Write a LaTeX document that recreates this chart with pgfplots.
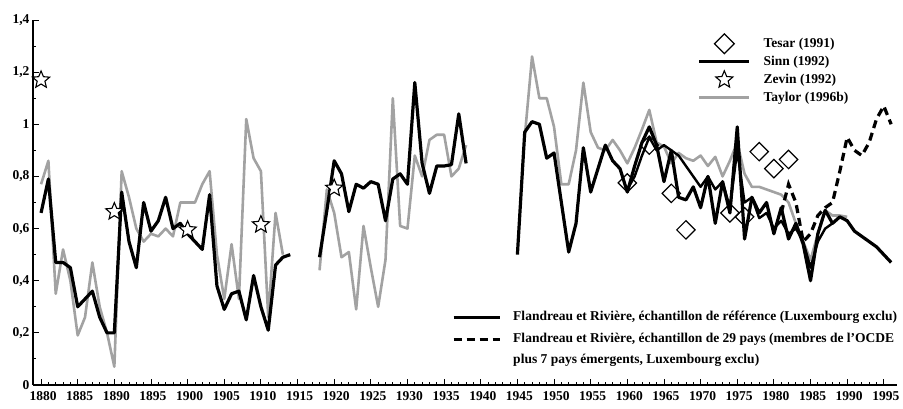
\documentclass[border=0pt]{standalone}
\usepackage{fontspec}
\setmainfont{Liberation Serif}
\usepackage{pgfplots}
\usepackage{pgfplotstable}
\pgfplotsset{compat=1.18}

\definecolor{taylorgray}{RGB}{162,162,162}

% outlined five-pointed star
\pgfdeclareplotmark{ostar}{%
  \pgfpathmoveto{\pgfpointpolar{90}{\pgfplotmarksize}}%
  \pgfpathlineto{\pgfpointpolar{126}{0.45\pgfplotmarksize}}%
  \pgfpathlineto{\pgfpointpolar{162}{\pgfplotmarksize}}%
  \pgfpathlineto{\pgfpointpolar{198}{0.45\pgfplotmarksize}}%
  \pgfpathlineto{\pgfpointpolar{234}{\pgfplotmarksize}}%
  \pgfpathlineto{\pgfpointpolar{270}{0.45\pgfplotmarksize}}%
  \pgfpathlineto{\pgfpointpolar{306}{\pgfplotmarksize}}%
  \pgfpathlineto{\pgfpointpolar{342}{0.45\pgfplotmarksize}}%
  \pgfpathlineto{\pgfpointpolar{18}{\pgfplotmarksize}}%
  \pgfpathlineto{\pgfpointpolar{54}{0.45\pgfplotmarksize}}%
  \pgfpathclose
  \pgfusepathqfillstroke}

% Flandreau et Riviere, reference sample
\pgfplotstableread{
year val
1880 0.66
1881 0.79
1882 0.47
1883 0.47
1884 0.45
1885 0.30
1886 0.33
1887 0.36
1888 0.26
1889 0.20
1890 0.20
1891 0.74
1892 0.55
1893 0.45
1894 0.70
1895 0.59
1896 0.63
1897 0.72
1898 0.60
1899 0.62
1900 0.58
1901 0.55
1902 0.52
1903 0.73
1904 0.38
1905 0.29
1906 0.35
1907 0.36
1908 0.25
1909 0.42
1910 0.30
1911 0.21
1912 0.46
1913 0.49
1914 0.50
1916 nan
1918 0.49
1919 0.67
1920 0.86
1921 0.81
1922 0.665
1923 0.77
1924 0.755
1925 0.78
1926 0.77
1927 0.63
1928 0.79
1929 0.81
1930 0.77
1931 1.16
1932 0.85
1933 0.735
1934 0.84
1935 0.84
1936 0.845
1937 1.04
1938 0.85
1941 nan
1945 0.50
1946 0.97
1947 1.01
1948 1.00
1949 0.87
1950 0.89
1951 0.70
1952 0.51
1953 0.62
1954 0.91
1955 0.74
1956 0.83
1957 0.92
1958 0.86
1959 0.83
1960 0.74
1961 0.84
1962 0.93
1963 0.99
1964 0.92
1965 0.78
1966 0.90
1967 0.72
1968 0.71
1969 0.76
1970 0.68
1971 0.80
1972 0.62
1973 0.78
1974 0.66
1975 0.99
1976 0.56
1977 0.72
1978 0.66
1979 0.70
1980 0.58
1981 0.68
1982 0.56
1983 0.62
1984 0.54
1985 0.40
1986 0.58
1987 0.67
1988 0.62
1989 0.645
1990 0.63
1991 0.59
1992 0.57
1993 0.55
1994 0.53
1995 0.50
1996 0.47
}\frref

% Flandreau et Riviere, 29 countries
\pgfplotstableread{
year val
1981 0.66
1982 0.77
1983 0.70
1984 0.55
1985 0.58
1986 0.65
1987 0.68
1988 0.70
1989 0.82
1990 0.95
1991 0.90
1992 0.88
1993 0.93
1994 1.02
1995 1.07
1996 1.00
}\frwide

% Sinn (1992)
\pgfplotstableread{
year val
1960 0.75
1961 0.80
1962 0.88
1963 0.95
1964 0.90
1965 0.92
1966 0.90
1967 0.88
1968 0.84
1969 0.80
1970 0.76
1971 0.80
1972 0.75
1973 0.78
1974 0.68
1975 0.90
1976 0.70
1977 0.72
1978 0.64
1979 0.66
1980 0.60
1981 0.63
1982 0.58
1983 0.60
1984 0.55
1985 0.45
1986 0.55
1987 0.60
1988 0.62
}\sinn

% Taylor (1996b)
\pgfplotstableread{
year val
1880 0.77
1881 0.86
1882 0.35
1883 0.52
1884 0.40
1885 0.19
1886 0.26
1887 0.47
1888 0.30
1889 0.20
1890 0.07
1891 0.82
1892 0.72
1893 0.60
1894 0.55
1895 0.58
1896 0.57
1897 0.60
1898 0.57
1899 0.70
1900 0.70
1901 0.70
1902 0.77
1903 0.82
1904 0.50
1905 0.33
1906 0.54
1907 0.33
1908 1.02
1909 0.87
1910 0.82
1911 0.26
1912 0.66
1913 0.50
1916 nan
1918 0.44
1919 0.75
1920 0.66
1921 0.49
1922 0.51
1923 0.29
1924 0.61
1925 0.45
1926 0.30
1927 0.48
1928 1.10
1929 0.61
1930 0.60
1931 0.88
1932 0.80
1933 0.94
1934 0.96
1935 0.96
1936 0.80
1937 0.83
1938 0.92
1941 nan
1946 0.95
1947 1.26
1948 1.10
1949 1.10
1950 0.99
1951 0.77
1952 0.77
1953 0.90
1954 1.16
1955 0.97
1956 0.91
1957 0.90
1958 0.94
1959 0.90
1960 0.85
1961 0.91
1962 0.98
1963 1.055
1964 0.93
1965 0.915
1966 0.85
1967 0.89
1968 0.87
1969 0.86
1970 0.88
1971 0.84
1972 0.875
1973 0.80
1974 0.86
1975 0.93
1976 0.81
1977 0.76
1978 0.76
1979 0.75
1980 0.74
1981 0.73
1982 0.70
1983 0.62
1984 0.55
1985 0.48
1986 0.58
1987 0.67
1988 0.65
1989 0.65
1990 0.645
}\taylor

% Tesar (1991)
\pgfplotstableread{
year val
1960 0.775
1963 0.92
1966 0.735
1968 0.595
1974 0.66
1976 0.645
1978 0.895
1980 0.83
1982 0.865
}\tesar

% Zevin (1992)
\pgfplotstableread{
year val
1880 1.17
1890 0.665
1900 0.595
1910 0.615
1920 0.755
}\zevin

\pgfplotsset{
  legline/.style={legend image code/.code={%
      \draw[##1] (0pt,0pt) -- (#1,0pt);
      \path[draw=none,fill=none] (0pt,-4pt) rectangle (#1,4pt);}},
  legmark/.style={legend image code/.code={%
      \draw[overlay,##1] plot coordinates {(25pt,0pt)};
      \path[draw=none,fill=none] (0pt,-4pt) rectangle (50pt,4pt);}},
  legfont/.style={font=\fontsize{13.5}{15}\selectfont\bfseries},
}

\begin{document}
\begin{tikzpicture}[x=1pt,y=1pt]
\useasboundingbox (0,0) rectangle (903,409);
\begin{axis}[
  at={(33pt,24pt)}, anchor=south west,
  width=864pt, height=365pt, scale only axis,
  xmin=1878.9, xmax=1996.8, ymin=0, ymax=1.4,
  axis lines=left, axis line style={-, line width=1.1pt},
  xtick={1880,1885,...,1995}, minor x tick num=4,
  ytick={0,0.2,0.4,0.6,0.8,1,1.2,1.4}, minor y tick num=1,
  tick align=inside, tick style={black, line width=0.9pt},
  major tick length=6pt, minor tick length=3pt,
  ticklabel style={font=\fontsize{13.5}{15}\selectfont\bfseries},
  xticklabel style={/pgf/number format/1000 sep={}, yshift=-3pt, xshift=2pt},
  yticklabel style={/pgf/number format/.cd, use comma, fixed, precision=1},
  /pgf/number format/assume math mode=true,
  unbounded coords=jump,
  legend cell align=left,
  legend style={legfont, draw=none, fill=none, inner sep=0pt, outer sep=0pt,
    at={(0.7697,0.952)}, anchor=north west, row sep=5.5pt,
    nodes={inner sep=0pt, text height=9.5pt, text depth=3pt},
    /tikz/every odd column/.append style={column sep=13pt}},
]
\addplot[taylorgray, line width=2.6pt, line join=round, forget plot] table[x=year,y=val] {\taylor};
\addplot[black, line width=2.4pt, line join=round, forget plot] table[x=year,y=val] {\sinn};
\addplot[black, line width=3.2pt, line join=round, forget plot] table[x=year,y=val] {\frref};
\addplot[black, line width=3.2pt, dash pattern=on 8pt off 5pt, forget plot] table[x=year,y=val] {\frwide};
\addplot[only marks, mark=square, mark size=6.5pt, mark options={rotate=45, line width=1.2pt, draw=black, fill=none}, forget plot] table[x=year,y=val] {\tesar};
\addplot[only marks, mark=ostar, mark size=9pt, mark options={line width=1.1pt, draw=black, fill=white}, forget plot] table[x=year,y=val] {\zevin};

\addlegendimage{legmark, only marks, mark=square, mark size=7pt, mark options={rotate=45, line width=1.2pt, draw=black, fill=none}}
\addlegendentry{Tesar (1991)}
\addlegendimage{legline=50pt, black, line width=2.6pt}
\addlegendentry{Sinn (1992)}
\addlegendimage{legmark, only marks, mark=ostar, mark size=9pt, mark options={line width=1.1pt, draw=black, fill=white}}
\addlegendentry{Zevin (1992)}
\addlegendimage{legline=50pt, taylorgray, line width=2.6pt}
\addlegendentry{Taylor (1996b)}
\end{axis}

\begin{axis}[
  at={(33pt,24pt)}, anchor=south west,
  width=864pt, height=365pt, scale only axis,
  xmin=1878.9, xmax=1996.8, ymin=0, ymax=1.4,
  hide axis,
  legend cell align=left,
  legend style={legfont, draw=none, fill=none, inner sep=0pt, outer sep=0pt,
    at={(0.485,0.2014)}, anchor=north west, row sep=9pt,
    nodes={inner sep=0pt, text height=9.5pt, text depth=3pt},
    /tikz/every odd column/.append style={column sep=12pt}},
]
\addlegendimage{legline=46pt, black, line width=3.2pt}
\addlegendentry{Flandreau et Rivière, échantillon de référence (Luxembourg exclu)}
\addlegendimage{legline=46pt, black, line width=3.2pt, dash pattern=on 8pt off 5pt}
\addlegendentry{Flandreau et Rivière, échantillon de 29 pays (membres de l'OCDE}
\addlegendimage{legend image code/.code={\path[draw=none,fill=none] (0pt,-4pt) rectangle (46pt,4pt);}}
\addlegendentry{plus 7 pays émergents, Luxembourg exclu)}
\end{axis}
\end{tikzpicture}
\end{document}
